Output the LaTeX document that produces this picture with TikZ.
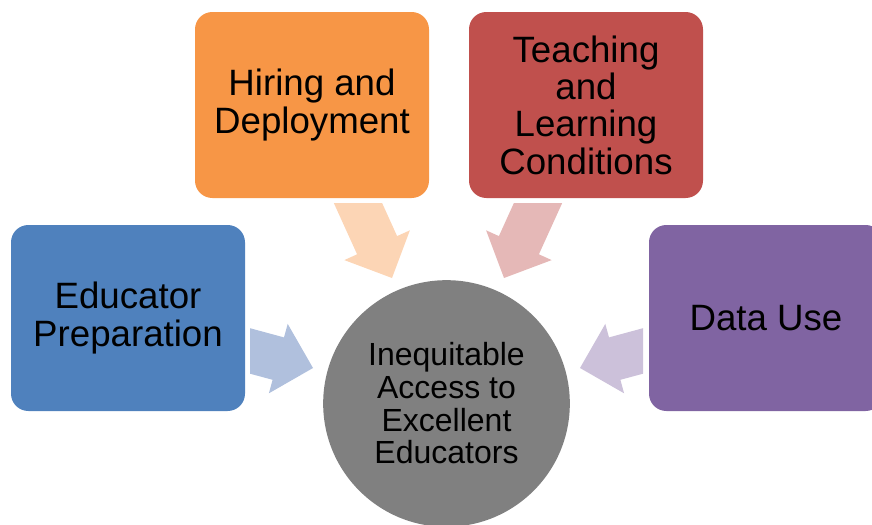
\documentclass[tikz,border=0pt]{standalone}
\usepackage{fontspec}
\setmainfont{Liberation Sans}
\definecolor{eblue}{HTML}{4F81BD}
\definecolor{eorange}{HTML}{F79646}
\definecolor{ered}{HTML}{C0504D}
\definecolor{epurple}{HTML}{8064A2}
\definecolor{egray}{HTML}{808080}
\definecolor{ablue}{HTML}{B0C0DD}
\definecolor{aorange}{HTML}{FCD5B5}
\definecolor{ared}{HTML}{E5B8B7}
\definecolor{apurple}{HTML}{CCC1DA}
\begin{document}
\begin{tikzpicture}[x=0.75pt,y=-0.75pt,
  box/.style={rounded corners=13pt, minimum width=175.5pt, minimum height=139.5pt,
    align=center, inner sep=0pt, text=black, font=\fontsize{27.5}{28}\selectfont},
  hubstyle/.style={circle, minimum size=185pt, inner sep=0pt, align=center, text=black,
    font=\fontsize{24}{24.5}\selectfont},
  blockarrow/.style={draw=none}]
\useasboundingbox (0,0) rectangle (872,525);
\clip (0,0) rectangle (872,525);
% block arrows
\fill[ablue] (250,328.2) -- (284.0,337.4) -- (287.7,323.9) -- (313,368) -- (268.9,393.3) -- (272.6,379.8) -- (250,373.7) -- cycle;
\fill[apurple] (643,328.2) -- (609,337.4) -- (605.3,323.9) -- (580,368) -- (624.1,393.3) -- (620.4,379.8) -- (643,373.7) -- cycle;
\fill[aorange] (333.8,203) -- (357.1,254.3) -- (344.3,260.1) -- (392,278) -- (409.9,230.3) -- (397.1,236.1) -- (382.1,203) -- cycle;
\fill[ared] (562.2,203) -- (538.9,254.3) -- (551.7,260.1) -- (504,278) -- (486.1,230.3) -- (498.9,236.1) -- (513.9,203) -- cycle;
% boxes
\node[box, fill=eblue] (edu) at (128,318) {Educator\\Preparation};
\node[box, fill=eorange] (hire) at (312,105) {Hiring and\\Deployment};
\node[box, fill=ered] (teach) at (586,105) {Teaching\\and\\Learning\\Conditions};
\node[box, fill=epurple] (data) at (766,318) {Data Use};
\node[hubstyle, fill=egray] (hub) at (446.5,403.5) {Inequitable\\Access to\\Excellent\\Educators};
\end{tikzpicture}
\end{document}
